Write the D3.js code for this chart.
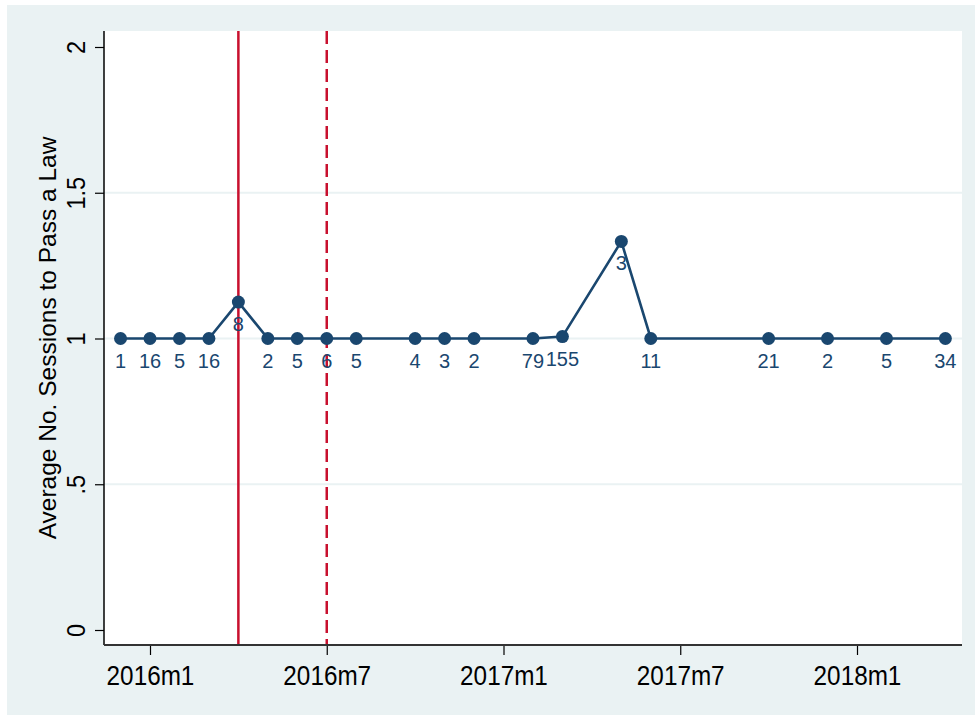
<!DOCTYPE html>
<html>
<head>
<meta charset="utf-8">
<script src="https://cdn.jsdelivr.net/npm/d3@7"></script>
<style>
  html, body { margin: 0; padding: 0; background: #fff; }
  svg text { font-family: "Liberation Sans", Arial, sans-serif; }
</style>
</head>
<body>
<svg id="chart" width="975" height="715"></svg>
<script>
// Monthly averages (Stata-style "YYYYmM" dates), with the number of laws in each month.
const months = ["2015m12", "2016m1", "2016m2", "2016m3", "2016m4", "2016m5", "2016m6",
  "2016m7", "2016m8", "2016m10", "2016m11", "2016m12", "2017m2", "2017m3", "2017m5",
  "2017m6", "2017m10", "2017m12", "2018m2", "2018m4"];
const avgSessions = [1, 1, 1, 1, 1.125, 1, 1, 1, 1, 1, 1, 1, 1, 1.0065, 1.333,
  1, 1, 1, 1, 1];
const counts = [1, 16, 5, 16, 8, 2, 5, 6, 5, 4, 3, 2, 79, 155, 3, 11, 21, 2, 5, 34];

const xTicks = ["2016m1", "2016m7", "2017m1", "2017m7", "2018m1"];
const yTicks = [0, 0.5, 1, 1.5, 2];
const yTickLabels = ["0", ".5", "1", "1.5", "2"];
const gridValues = [0.5, 1, 1.5];
const eventSolid = "2016m4";
const eventDashed = "2016m7";

// month string -> months since 2016m1
const toIdx = (s) => {
  const [y, m] = s.split("m").map(Number);
  return (y - 2016) * 12 + (m - 1);
};

const data = months.map((m, i) => ({ t: toIdx(m), v: avgSessions[i], n: counts[i] }));

const navy = "#1a476f";
const red = "#c8102e";
const grid = "#eaf2f3";

const svg = d3.select("#chart");

// outer (graph) region
svg.append("rect").attr("x", 7).attr("y", 5).attr("width", 968).attr("height", 710)
  .attr("fill", "#eaf2f3");

const plot = { left: 104, right: 962, top: 31, bottom: 645 };
svg.append("rect")
  .attr("x", plot.left).attr("y", plot.top)
  .attr("width", plot.right - plot.left).attr("height", plot.bottom - plot.top)
  .attr("fill", "#fff");

const x = d3.scaleLinear().domain([0, 24]).range([150, 857]);
const y = d3.scaleLinear().domain([0, 2]).range([630, 47]);

// gridlines
svg.append("g").selectAll("line").data(gridValues).join("line")
  .attr("x1", plot.left).attr("x2", plot.right)
  .attr("y1", (d) => y(d)).attr("y2", (d) => y(d))
  .attr("stroke", grid).attr("stroke-width", 2);

// event lines (drawn under the series)
svg.append("line")
  .attr("x1", x(toIdx(eventSolid))).attr("x2", x(toIdx(eventSolid)))
  .attr("y1", plot.top).attr("y2", plot.bottom)
  .attr("stroke", red).attr("stroke-width", 2.5);
svg.append("line")
  .attr("x1", x(toIdx(eventDashed))).attr("x2", x(toIdx(eventDashed)))
  .attr("y1", plot.top).attr("y2", plot.bottom)
  .attr("stroke", red).attr("stroke-width", 2.5)
  .attr("stroke-dasharray", "13,6");

// series
const line = d3.line().x((d) => x(d.t)).y((d) => y(d.v));
svg.append("path").datum(data)
  .attr("d", line).attr("fill", "none")
  .attr("stroke", navy).attr("stroke-width", 2.6);

svg.append("g").selectAll("circle").data(data).join("circle")
  .attr("cx", (d) => x(d.t)).attr("cy", (d) => y(d.v))
  .attr("r", 6.5).attr("fill", navy);

svg.append("g").selectAll("text").data(data).join("text")
  .attr("x", (d) => x(d.t)).attr("y", (d) => y(d.v) + 29)
  .attr("text-anchor", "middle")
  .attr("font-size", 20).attr("fill", navy)
  .text((d) => d.n);

// y axis
const yAxis = d3.axisLeft(y).tickValues(yTicks).tickSize(9).tickFormat((d, i) => yTickLabels[i]);
const gy = svg.append("g").attr("transform", `translate(${plot.left},0)`).call(yAxis);
gy.select(".domain").remove();
gy.selectAll(".tick line").attr("stroke", "#000").attr("stroke-width", 1.2);
gy.selectAll(".tick text")
  .attr("font-size", 25).attr("fill", "#000")
  .attr("text-anchor", "middle")
  .attr("x", null).attr("dy", null)
  .attr("transform", "translate(-19,0) rotate(-90) scale(0.94,1)");
svg.append("line")
  .attr("x1", plot.left).attr("x2", plot.left)
  .attr("y1", plot.top).attr("y2", plot.bottom)
  .attr("stroke", "#000").attr("stroke-width", 1.5);

// x axis — Stata's labels are a bit taller and narrower than plain Arial
const xAxis = d3.axisBottom(x).tickValues(xTicks.map(toIdx)).tickSize(10)
  .tickFormat((d, i) => xTicks[i]);
const gx = svg.append("g").attr("transform", `translate(0,${plot.bottom})`).call(xAxis);
gx.select(".domain").remove();
gx.selectAll(".tick line").attr("stroke", "#000").attr("stroke-width", 1.2);
gx.selectAll(".tick text")
  .attr("font-size", 27).attr("fill", "#000")
  .attr("y", 40).attr("dy", null)
  .attr("transform", "scale(0.9,1)");
svg.append("line")
  .attr("x1", plot.left).attr("x2", plot.right)
  .attr("y1", plot.bottom).attr("y2", plot.bottom)
  .attr("stroke", "#333").attr("stroke-width", 2);

// y title
svg.append("text")
  .attr("transform", `translate(56,${(plot.top + plot.bottom) / 2}) rotate(-90)`)
  .attr("text-anchor", "middle")
  .attr("font-size", 24.5).attr("fill", "#000")
  .text("Average No. Sessions to Pass a Law");
</script>
</body>
</html>
